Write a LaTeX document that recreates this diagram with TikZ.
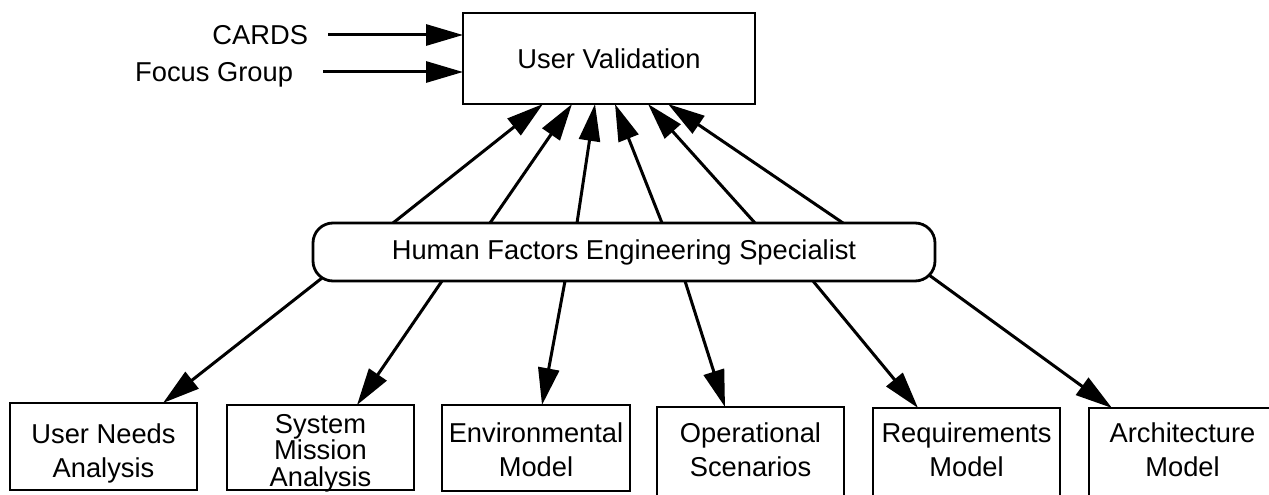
\documentclass[tikz,border=0pt]{standalone}
\usepackage{fontspec}
\setmainfont{Liberation Sans}
\usetikzlibrary{arrows.meta}
\newcommand\boxlines[1]{\begin{tabular}[t]{@{}c@{}}#1\end{tabular}}
\begin{document}
\begin{tikzpicture}[x=1pt,y=-1pt,
  every node/.style={font=\fontsize{27.3}{34}\selectfont, inner sep=0pt, outer sep=0pt},
  conn/.style={line width=3pt, -{Triangle[length=37pt,width=21pt]}},
  frame/.style={draw, line width=2.8pt},
  lowbox/.style={frame, anchor=north west, minimum width=187pt}]
\useasboundingbox (0,0) rectangle (1269,495);

% top
\node[frame, minimum width=292pt, minimum height=91pt] (uv) at (609,58.5) {User Validation};
\node[anchor=base east] (cards) at (308,44.75) {CARDS};
\node[anchor=base east] (focus) at (293,81.75) {Focus Group};
\draw[conn] ([xshift=20pt,yshift=9.75pt]cards.base east) -- ([yshift=9.75pt]cards.base east -| uv.west);
\draw[conn] ([xshift=30pt,yshift=9.75pt]focus.base east) -- ([yshift=9.75pt]focus.base east -| uv.west);

% middle
\node[frame, rounded corners=20pt, minimum width=622pt, minimum height=58pt] (hfe) at (624,252) {Human Factors Engineering Specialist};

\draw[conn] ([xshift=80pt]hfe.north west) -- ([xshift=80pt]uv.south west);
\draw[conn] ([xshift=177pt]hfe.north west) -- ([xshift=109pt]uv.south west);
\draw[conn] ([xshift=264pt]hfe.north west) -- ([xshift=132pt]uv.south west);
\draw[conn] ([xshift=349pt]hfe.north west) -- ([xshift=152pt]uv.south west);
\draw[conn] ([xshift=442pt]hfe.north west) -- ([xshift=185pt]uv.south west);
\draw[conn] ([xshift=530pt]hfe.north west) -- ([xshift=205pt]uv.south west);

% bottom boxes
\node[lowbox, text height=40pt, text depth=47pt] (b1) at (10,403) {\boxlines{User Needs\\Analysis}};
\node[lowbox, font=\fontsize{27.3}{24}\selectfont, text height=28pt, text depth=57pt] (b2) at (227,405) {\boxlines{System\\Mission\\Analysis}};
\node[lowbox, minimum width=188pt, text height=37pt, text depth=49pt] (b3) at (442,405) {\boxlines{Environmental\\Model}};
\node[lowbox, text height=35pt, text depth=60pt] (b4) at (657,407) {\boxlines{Operational\\Scenarios}};
\node[lowbox, text height=34pt, text depth=60pt] (b5) at (873,408) {\boxlines{Requirements\\Model}};
\node[lowbox, text height=34pt, text depth=60pt] (b6) at (1089,408) {\boxlines{Architecture\\Model}};

\draw[conn] ([xshift=9pt,yshift=3pt]hfe.south west) -- ([xshift=153pt]b1.north west);
\draw[conn] ([xshift=129pt]hfe.south west) -- ([xshift=130pt]b2.north west);
\draw[conn] ([xshift=252pt]hfe.south west) -- ([xshift=100pt]b3.north west);
\draw[conn] ([xshift=372pt]hfe.south west) -- ([xshift=68pt]b4.north west);
\draw[conn] ([xshift=500pt]hfe.south west) -- ([xshift=45pt]b5.north west);
\draw[conn] ([xshift=-6pt,yshift=6pt]hfe.south east) -- ([xshift=23pt]b6.north west);
\end{tikzpicture}
\end{document}
